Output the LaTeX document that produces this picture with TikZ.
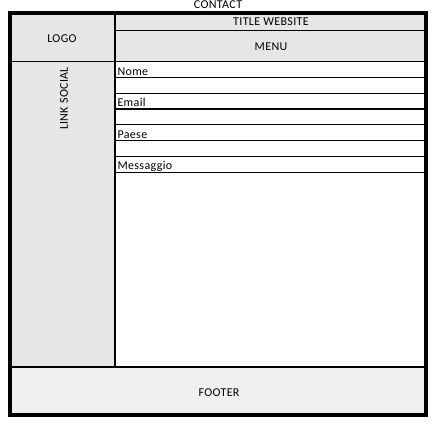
\documentclass[tikz,border=0pt]{standalone}
\usepackage{fontspec}
\setmainfont{Carlito}[LetterSpace=3]
\definecolor{panelgray}{RGB}{231,229,229}
\definecolor{footgray}{RGB}{240,240,240}
\tikzset{
	lbl/.style={anchor=base, inner sep=0pt},
	field/.style={anchor=base west, inner sep=0pt}
}

\begin{document}
\begin{tikzpicture}[x=1pt, y=-1pt, font=\fontsize{12}{14}\selectfont]
		\useasboundingbox (0,0) rectangle (439,429);

		% panels
		\fill[panelgray] (10,13) rectangle (426,61.5);
		\fill[panelgray] (10,61.5) rectangle (115,367);
		\fill[footgray] (10,367) rectangle (426,415);

		% grid lines
		\draw[line width=1.2] (115,13) -- (115,367);
		\draw[line width=1.2] (115,30.5) -- (426,30.5);
		\draw[line width=1.2] (10,61.5) -- (426,61.5);
		\foreach \k in {1,...,7}
			\draw[line width=1.2] (115,61.5+15.8*\k) -- (426,61.5+15.8*\k);
		\draw[line width=2.5] (10,367) -- (426,367);

		% outer frame
		\draw[line width=3.5] (10,13) rectangle (426,415);

		% labels
		\node[lbl] (contact) at (218,8.6) {CONTACT};
		\node[lbl] (logo) at (62,42.3) {LOGO};
		\node[inner sep=0pt, rotate=90] (social) at (64,98.5) {LINK SOCIAL};
		\node[lbl] (title) at (271,25.3) {TITLE WEBSITE};
		\node[lbl] (menu) at (271,50.4) {MENU};
		\node[lbl] (footer) at (219,396.6) {FOOTER};

		% form fields
		\node[field] (nome) at (117.3,75.1) {Nome};
		\node[field] (email) at (117.3,106.7) {Email};
		\node[field] (paese) at (117.3,138.3) {Paese};
		\node[field] (messaggio) at (117.3,169.9) {Messaggio};

\end{tikzpicture}
\end{document}
